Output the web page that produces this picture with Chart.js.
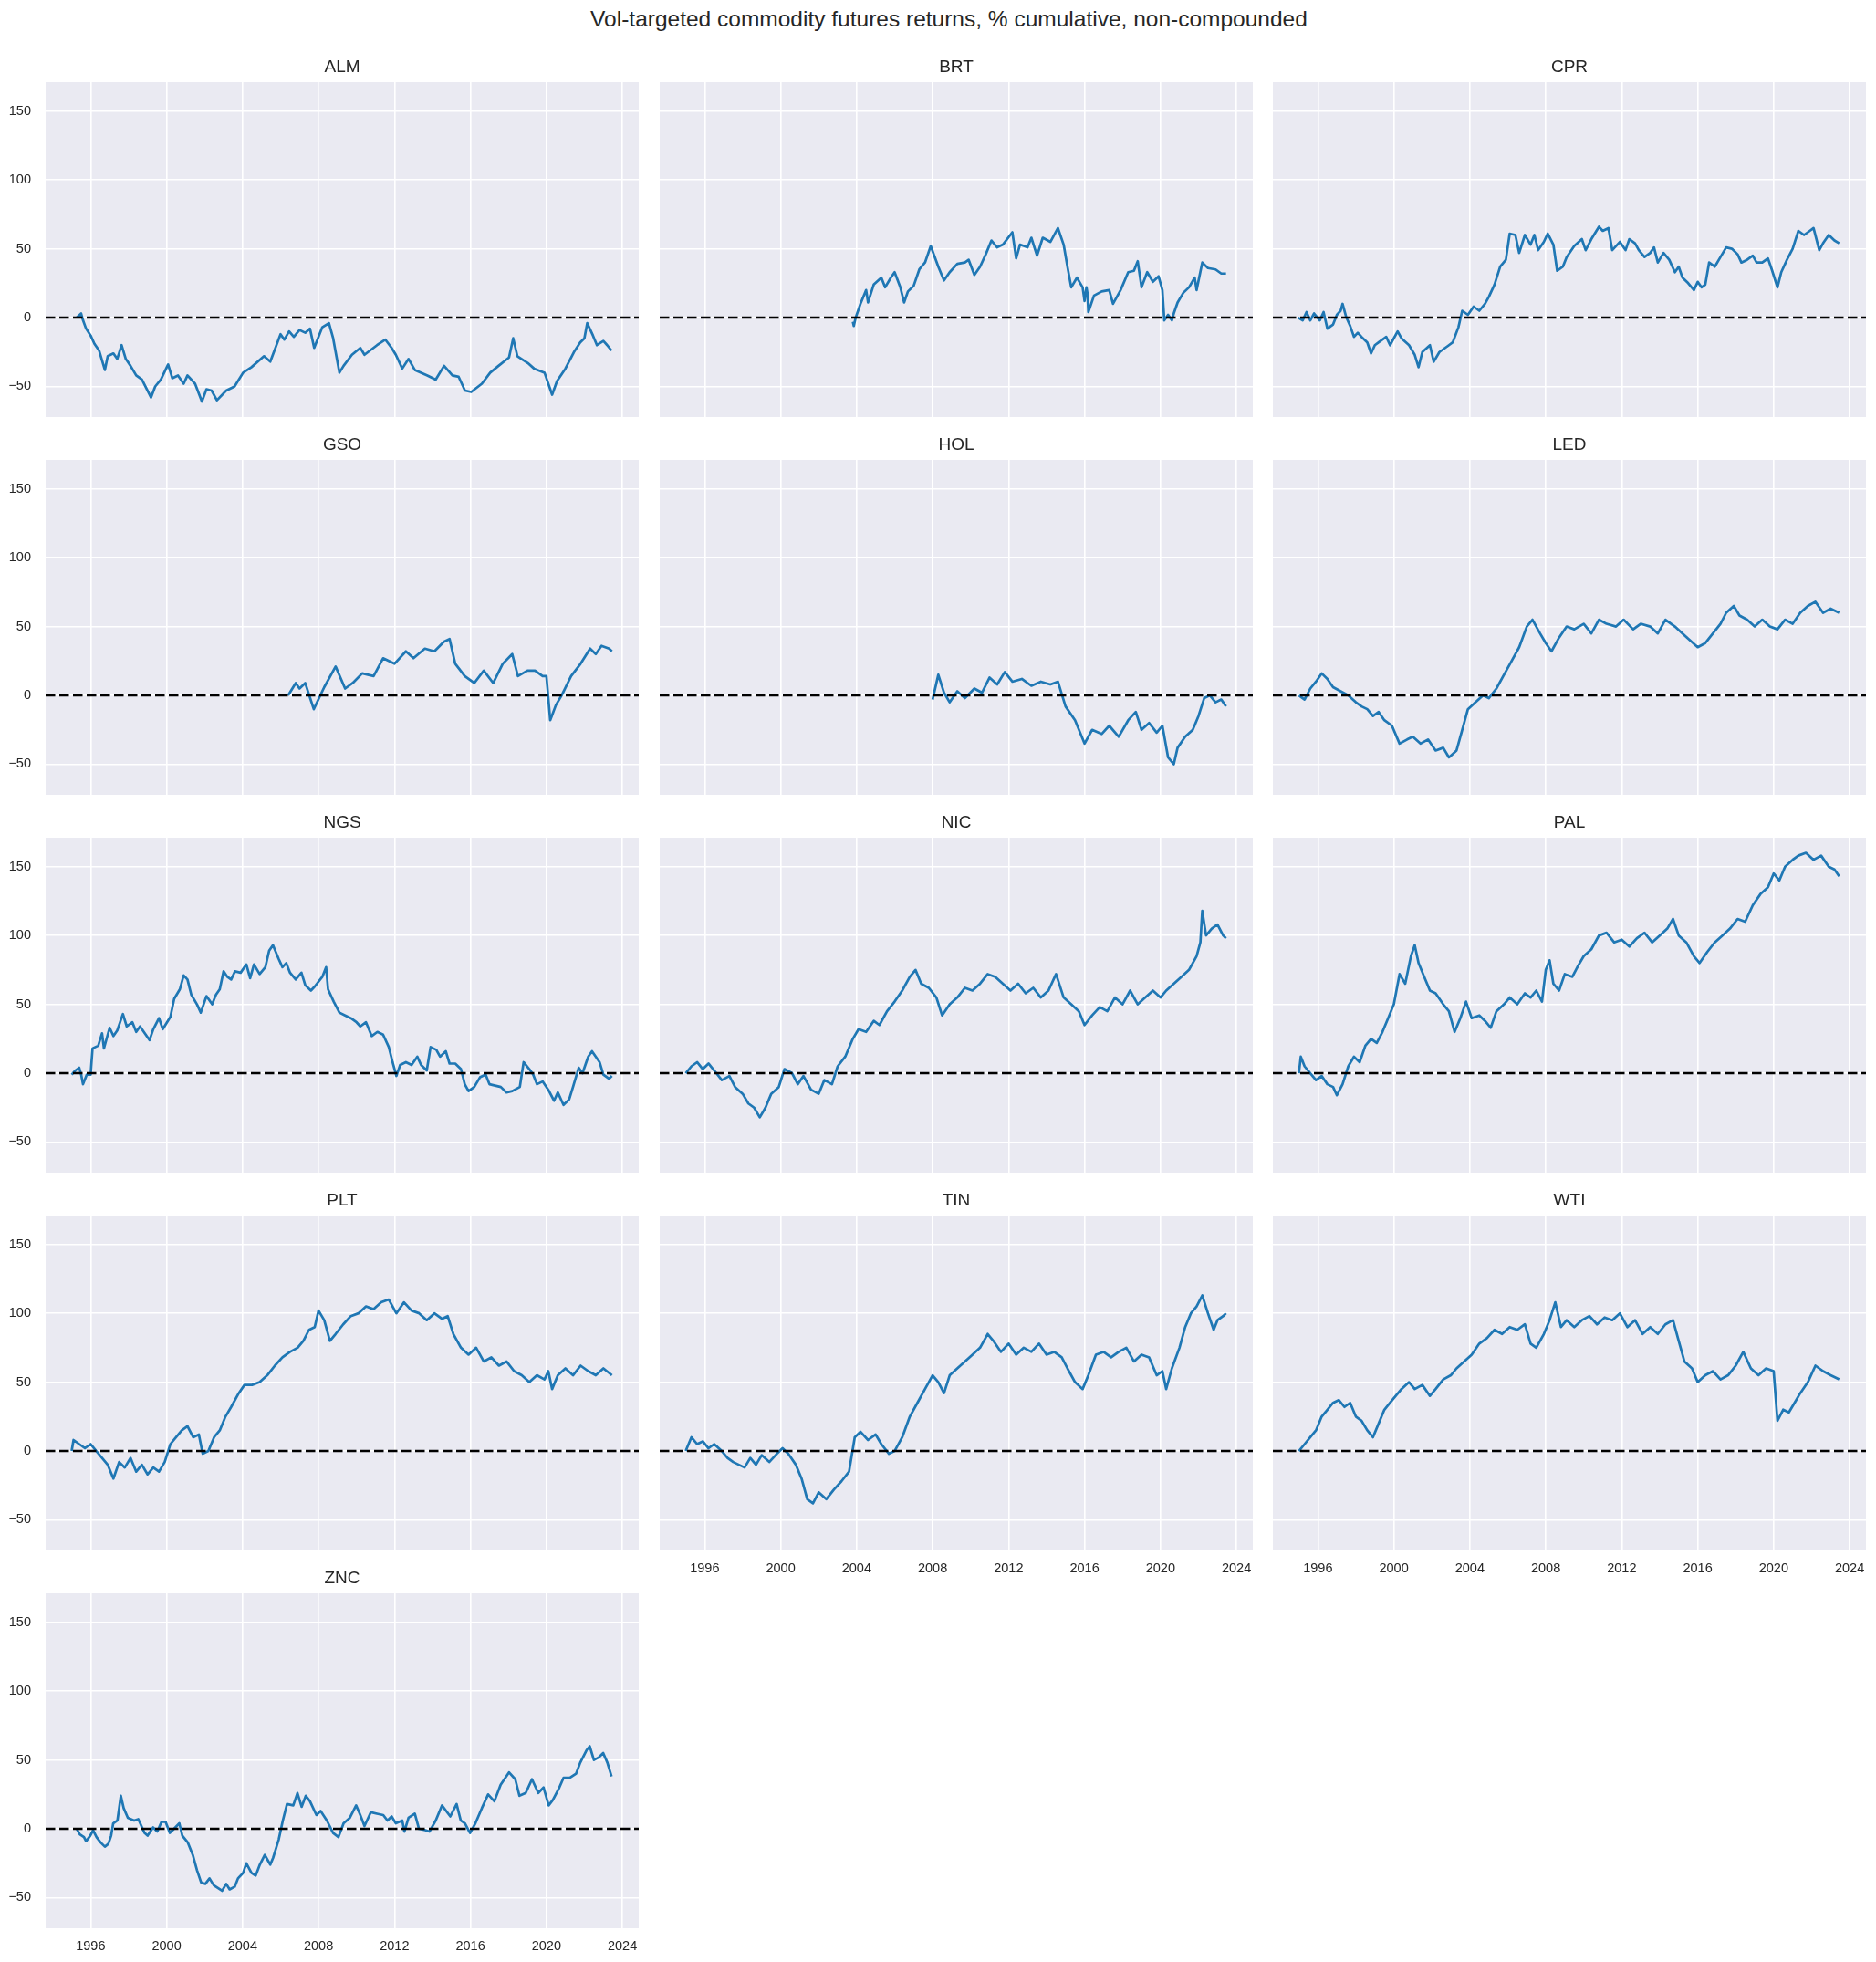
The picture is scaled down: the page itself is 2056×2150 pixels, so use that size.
<!DOCTYPE html>
<html>
<head>
<meta charset="utf-8">
<script src="https://cdn.jsdelivr.net/npm/chart.js@4.4.1/dist/chart.umd.min.js"></script>
<style>
  html, body { margin: 0; padding: 0; background: #fff; }
  #fig { position: relative; width: 2056px; height: 2150px; overflow: hidden; }
  #suptitle {
    position: absolute; left: 12px; top: 7px; width: 2056px; text-align: center;
    font-family: 'Liberation Sans', Arial, sans-serif; font-size: 24.5px; color: #262626;
  }
  canvas { position: absolute; }
</style>
</head>
<body>
<div id="fig">
  <div id="suptitle">Vol-targeted commodity futures returns, % cumulative, non-compounded</div>
</div>
<script>
// axis setup
const xTicks = [1996, 2000, 2004, 2008, 2012, 2016, 2020, 2024];
const yTicks = [-50, 0, 50, 100, 150];
const X_MIN = 1993.63, X_MAX = 2024.86;
const Y_MIN = -72.2, Y_MAX = 171;

// cumulative returns, [year, %] read at the turning points of each line
const ALM = [[1995.27,0],[1995.5,3],[1995.6,-2],[1995.76,-8],[1996.0,-13],[1996.2,-19],[1996.45,-24],[1996.75,-38],[1996.9,-28],[1997.2,-26],[1997.4,-30],[1997.63,-20],[1997.85,-30],[1998.1,-35],[1998.4,-42],[1998.7,-45],[1999.18,-58],[1999.4,-50],[1999.7,-45],[2000.08,-34],[2000.3,-44],[2000.6,-42],[2000.9,-48],[2001.1,-42],[2001.5,-48],[2001.86,-61],[2002.1,-52],[2002.37,-53],[2002.65,-60],[2003.14,-53],[2003.58,-50],[2004.03,-40],[2004.47,-36],[2005.13,-28],[2005.46,-32],[2006.0,-12],[2006.2,-16],[2006.45,-10],[2006.7,-14],[2007.0,-9],[2007.3,-11],[2007.55,-8],[2007.77,-22],[2008.2,-7],[2008.55,-4],[2008.77,-15],[2009.1,-40],[2009.32,-35],[2009.76,-27],[2010.2,-22],[2010.42,-27],[2011.08,-20],[2011.52,-16],[2011.85,-22],[2012.07,-27],[2012.41,-37],[2012.74,-30],[2013.07,-38],[2013.73,-42],[2014.17,-45],[2014.61,-35],[2015.05,-42],[2015.38,-43],[2015.71,-53],[2016.04,-54],[2016.6,-48],[2017.04,-40],[2017.48,-35],[2018.03,-29],[2018.25,-15],[2018.47,-28],[2019.02,-33],[2019.35,-37],[2019.9,-40],[2020.3,-56],[2020.56,-46],[2021.0,-37],[2021.45,-25],[2021.78,-18],[2022.0,-15],[2022.15,-4],[2022.45,-13],[2022.66,-20],[2023.0,-17],[2023.2,-20],[2023.43,-24]];
const BRT = [[2003.8,-3],[2003.85,-6],[2003.95,0],[2004.2,10],[2004.5,20],[2004.6,11],[2004.9,24],[2005.3,29],[2005.5,22],[2005.8,29],[2006.0,33],[2006.3,22],[2006.5,11],[2006.7,19],[2007.0,23],[2007.3,35],[2007.6,40],[2007.9,52],[2008.3,37],[2008.6,27],[2008.9,33],[2009.3,39],[2009.7,40],[2009.9,42],[2010.2,31],[2010.5,37],[2010.8,46],[2011.1,56],[2011.4,51],[2011.7,53],[2012.2,62],[2012.4,43],[2012.6,53],[2013.0,51],[2013.2,58],[2013.5,45],[2013.8,58],[2014.2,55],[2014.6,65],[2014.9,53],[2015.1,37],[2015.3,22],[2015.6,29],[2015.9,22],[2016.0,12],[2016.1,22],[2016.15,18],[2016.2,4],[2016.5,16],[2016.9,19],[2017.3,20],[2017.5,10],[2017.9,20],[2018.3,33],[2018.6,34],[2018.8,41],[2019.0,22],[2019.3,33],[2019.6,26],[2019.9,30],[2020.1,20],[2020.2,-2],[2020.4,2],[2020.6,-2],[2020.7,3],[2020.9,11],[2021.2,18],[2021.5,22],[2021.8,29],[2021.9,20],[2022.2,40],[2022.5,36],[2022.9,35],[2023.2,32],[2023.45,32]];
const CPR = [[1994.96,0],[1995.2,-2],[1995.4,4],[1995.6,-2],[1995.8,3],[1996.1,-2],[1996.3,4],[1996.5,-8],[1996.8,-5],[1997.0,2],[1997.2,5],[1997.3,10],[1997.5,0],[1997.7,-6],[1997.9,-14],[1998.1,-11],[1998.3,-14],[1998.6,-18],[1998.8,-26],[1999.0,-20],[1999.2,-18],[1999.4,-16],[1999.6,-14],[1999.8,-20],[2000.2,-10],[2000.4,-15],[2000.8,-20],[2001.1,-27],[2001.3,-36],[2001.5,-25],[2001.9,-20],[2002.1,-32],[2002.4,-25],[2002.6,-23],[2002.9,-20],[2003.1,-18],[2003.4,-7],[2003.6,5],[2003.9,2],[2004.2,8],[2004.5,5],[2004.8,10],[2005.0,15],[2005.3,24],[2005.6,37],[2005.9,42],[2006.1,61],[2006.4,60],[2006.6,47],[2006.9,60],[2007.2,53],[2007.4,60],[2007.6,49],[2007.9,55],[2008.1,61],[2008.4,53],[2008.6,34],[2008.9,37],[2009.1,44],[2009.5,52],[2009.9,57],[2010.1,49],[2010.4,57],[2010.8,66],[2011.0,63],[2011.3,65],[2011.5,49],[2011.9,55],[2012.2,49],[2012.4,57],[2012.7,54],[2012.9,49],[2013.2,44],[2013.5,47],[2013.7,51],[2013.9,40],[2014.2,47],[2014.5,42],[2014.8,33],[2015.0,37],[2015.2,29],[2015.5,25],[2015.8,20],[2016.0,26],[2016.2,22],[2016.4,24],[2016.6,40],[2016.9,37],[2017.2,44],[2017.5,51],[2017.8,50],[2018.1,46],[2018.3,40],[2018.6,42],[2018.9,45],[2019.1,40],[2019.4,40],[2019.7,43],[2019.9,35],[2020.2,22],[2020.4,33],[2020.7,42],[2021.0,50],[2021.3,63],[2021.6,60],[2021.9,63],[2022.1,65],[2022.4,49],[2022.6,54],[2022.9,60],[2023.2,56],[2023.45,54]];
const GSO = [[2006.4,0],[2006.8,9],[2007.0,5],[2007.3,9],[2007.75,-10],[2008.3,6],[2008.9,21],[2009.4,5],[2009.8,9],[2010.3,16],[2010.9,14],[2011.4,27],[2012.0,23],[2012.6,32],[2013.0,27],[2013.6,34],[2014.1,32],[2014.6,39],[2014.9,41],[2015.2,23],[2015.7,14],[2016.2,9],[2016.7,18],[2017.2,9],[2017.7,23],[2018.2,30],[2018.5,14],[2019.0,18],[2019.4,18],[2019.8,14],[2020.0,14],[2020.2,-18],[2020.5,-7],[2020.8,0],[2021.3,14],[2021.8,23],[2022.3,34],[2022.6,30],[2022.9,36],[2023.3,34],[2023.45,32]];
const HOL = [[2008.0,-3],[2008.3,15],[2008.6,2],[2008.9,-5],[2009.3,3],[2009.7,-2],[2010.2,5],[2010.6,2],[2011.0,13],[2011.4,8],[2011.8,17],[2012.2,10],[2012.7,12],[2013.2,7],[2013.7,10],[2014.2,8],[2014.6,10],[2015.0,-8],[2015.5,-18],[2016.0,-35],[2016.4,-25],[2016.9,-28],[2017.3,-22],[2017.8,-30],[2018.3,-18],[2018.7,-12],[2019.0,-25],[2019.4,-20],[2019.8,-27],[2020.1,-22],[2020.4,-45],[2020.7,-50],[2020.9,-38],[2021.3,-30],[2021.7,-25],[2022.0,-15],[2022.3,-2],[2022.6,0],[2022.9,-5],[2023.2,-3],[2023.45,-8]];
const LED = [[1995.0,0],[1995.3,-3],[1995.6,5],[1995.9,10],[1996.2,16],[1996.5,12],[1996.8,6],[1997.2,3],[1997.6,0],[1998.0,-5],[1998.3,-8],[1998.6,-10],[1998.9,-15],[1999.2,-12],[1999.5,-18],[1999.9,-22],[2000.3,-35],[2000.7,-32],[2001.0,-30],[2001.4,-35],[2001.8,-32],[2002.2,-40],[2002.6,-38],[2002.9,-45],[2003.3,-40],[2003.6,-25],[2003.9,-10],[2004.3,-5],[2004.7,0],[2005.0,-2],[2005.4,5],[2005.8,15],[2006.2,25],[2006.6,35],[2007.0,50],[2007.3,55],[2007.7,45],[2008.0,38],[2008.3,32],[2008.7,42],[2009.1,50],[2009.5,48],[2010.0,52],[2010.4,45],[2010.8,55],[2011.2,52],[2011.7,50],[2012.1,55],[2012.6,48],[2013.0,52],[2013.5,50],[2013.9,45],[2014.3,55],[2014.8,50],[2015.2,45],[2015.6,40],[2016.0,35],[2016.4,38],[2016.8,45],[2017.2,52],[2017.5,60],[2017.9,65],[2018.2,58],[2018.6,55],[2019.0,50],[2019.4,55],[2019.8,50],[2020.2,48],[2020.6,55],[2021.0,52],[2021.4,60],[2021.8,65],[2022.2,68],[2022.6,60],[2023.0,63],[2023.45,60]];
const NGS = [[1995.0,-1],[1995.2,2],[1995.4,4],[1995.5,-1],[1995.6,-8],[1995.8,-1],[1996.0,-1],[1996.1,18],[1996.4,20],[1996.6,29],[1996.7,18],[1997.0,33],[1997.2,27],[1997.4,31],[1997.7,43],[1997.9,34],[1998.2,37],[1998.4,30],[1998.6,34],[1998.9,28],[1999.1,24],[1999.3,32],[1999.6,40],[1999.8,32],[2000.2,41],[2000.4,54],[2000.7,61],[2000.9,71],[2001.1,68],[2001.3,57],[2001.6,50],[2001.8,44],[2002.1,56],[2002.4,50],[2002.6,57],[2002.8,61],[2003.0,74],[2003.2,70],[2003.4,68],[2003.6,74],[2003.9,73],[2004.2,79],[2004.4,69],[2004.6,79],[2004.9,72],[2005.2,77],[2005.4,89],[2005.6,93],[2005.9,83],[2006.1,77],[2006.3,80],[2006.5,73],[2006.8,68],[2007.1,73],[2007.3,64],[2007.6,60],[2007.8,63],[2008.2,70],[2008.4,77],[2008.5,61],[2008.8,52],[2009.1,44],[2009.4,42],[2009.7,40],[2010.0,37],[2010.2,34],[2010.5,37],[2010.8,27],[2011.1,30],[2011.4,28],[2011.7,19],[2011.9,8],[2012.1,-2],[2012.3,6],[2012.6,8],[2012.9,6],[2013.2,12],[2013.4,6],[2013.7,2],[2013.9,19],[2014.2,17],[2014.4,12],[2014.7,16],[2014.9,7],[2015.2,7],[2015.5,3],[2015.7,-8],[2015.9,-13],[2016.2,-10],[2016.5,-3],[2016.8,-1],[2017.0,-8],[2017.3,-9],[2017.6,-10],[2017.9,-14],[2018.2,-13],[2018.6,-10],[2018.8,8],[2019.1,3],[2019.3,-1],[2019.5,-8],[2019.8,-6],[2020.1,-12],[2020.4,-20],[2020.6,-14],[2020.9,-23],[2021.2,-19],[2021.4,-10],[2021.7,4],[2021.9,0],[2022.2,12],[2022.4,16],[2022.6,12],[2022.8,8],[2023.0,-1],[2023.3,-4],[2023.45,-2]];
const NIC = [[1995.0,0],[1995.3,5],[1995.6,8],[1995.9,3],[1996.2,7],[1996.5,2],[1996.9,-5],[1997.3,-2],[1997.6,-10],[1998.0,-15],[1998.3,-22],[1998.6,-25],[1998.9,-32],[1999.2,-25],[1999.5,-15],[1999.9,-10],[2000.2,3],[2000.6,0],[2000.9,-8],[2001.2,-2],[2001.6,-12],[2002.0,-15],[2002.3,-5],[2002.7,-8],[2003.0,5],[2003.4,12],[2003.8,25],[2004.1,32],[2004.5,30],[2004.9,38],[2005.2,35],[2005.6,45],[2006.0,52],[2006.4,60],[2006.8,70],[2007.1,75],[2007.4,65],[2007.8,62],[2008.2,55],[2008.5,42],[2008.9,50],[2009.3,55],[2009.7,62],[2010.1,60],[2010.5,65],[2010.9,72],[2011.3,70],[2011.7,65],[2012.1,60],[2012.5,65],[2012.9,58],[2013.3,62],[2013.7,55],[2014.1,60],[2014.5,72],[2014.9,55],[2015.3,50],[2015.7,45],[2016.0,35],[2016.4,42],[2016.8,48],[2017.2,45],[2017.6,55],[2018.0,50],[2018.4,60],[2018.8,50],[2019.2,55],[2019.6,60],[2020.0,55],[2020.3,60],[2020.7,65],[2021.1,70],[2021.5,75],[2021.9,85],[2022.1,95],[2022.2,118],[2022.4,100],[2022.7,105],[2023.0,108],[2023.3,100],[2023.45,98]];
const PAL = [[1995.0,0],[1995.1,12],[1995.3,5],[1995.6,0],[1995.9,-5],[1996.2,-2],[1996.5,-8],[1996.8,-10],[1997.0,-16],[1997.3,-8],[1997.6,5],[1997.9,12],[1998.2,8],[1998.5,20],[1998.8,25],[1999.1,22],[1999.4,30],[1999.7,40],[2000.0,50],[2000.3,72],[2000.6,65],[2000.9,85],[2001.1,93],[2001.3,80],[2001.6,70],[2001.9,60],[2002.2,58],[2002.6,50],[2002.9,45],[2003.2,30],[2003.5,40],[2003.8,52],[2004.1,40],[2004.5,42],[2004.8,38],[2005.1,33],[2005.4,45],[2005.8,50],[2006.1,55],[2006.5,50],[2006.9,58],[2007.2,55],[2007.5,60],[2007.8,52],[2008.0,75],[2008.2,82],[2008.4,65],[2008.7,60],[2009.0,72],[2009.4,70],[2009.7,78],[2010.0,85],[2010.4,90],[2010.8,100],[2011.2,102],[2011.6,95],[2012.0,97],[2012.4,92],[2012.8,98],[2013.2,102],[2013.6,95],[2014.0,100],[2014.4,105],[2014.7,112],[2015.0,100],[2015.4,95],[2015.8,85],[2016.1,80],[2016.5,88],[2016.9,95],[2017.3,100],[2017.7,105],[2018.1,112],[2018.5,110],[2018.9,122],[2019.3,130],[2019.7,135],[2020.0,145],[2020.3,140],[2020.6,150],[2021.0,155],[2021.3,158],[2021.7,160],[2022.1,155],[2022.5,158],[2022.9,150],[2023.2,148],[2023.45,143]];
const PLT = [[1995.0,0],[1995.1,8],[1995.4,5],[1995.7,2],[1996.0,5],[1996.3,0],[1996.6,-5],[1996.9,-10],[1997.2,-20],[1997.5,-8],[1997.8,-12],[1998.1,-5],[1998.4,-15],[1998.7,-10],[1999.0,-17],[1999.3,-12],[1999.6,-15],[1999.9,-8],[2000.2,5],[2000.5,10],[2000.8,15],[2001.1,18],[2001.4,10],[2001.7,12],[2001.9,-2],[2002.2,0],[2002.5,10],[2002.8,15],[2003.1,25],[2003.4,32],[2003.8,42],[2004.1,48],[2004.5,48],[2004.9,50],[2005.3,55],[2005.7,62],[2006.1,68],[2006.5,72],[2006.9,75],[2007.2,80],[2007.5,88],[2007.8,90],[2008.0,102],[2008.3,95],[2008.6,80],[2008.9,85],[2009.3,92],[2009.7,98],[2010.1,100],[2010.5,105],[2010.9,103],[2011.3,108],[2011.7,110],[2012.1,100],[2012.5,108],[2012.9,102],[2013.3,100],[2013.7,95],[2014.1,100],[2014.5,96],[2014.8,98],[2015.1,85],[2015.5,75],[2015.9,70],[2016.3,75],[2016.7,65],[2017.1,68],[2017.5,62],[2017.9,65],[2018.3,58],[2018.7,55],[2019.1,50],[2019.5,55],[2019.9,52],[2020.1,58],[2020.3,45],[2020.6,55],[2021.0,60],[2021.4,55],[2021.8,62],[2022.2,58],[2022.6,55],[2023.0,60],[2023.45,55]];
const TIN = [[1995.0,0],[1995.3,10],[1995.6,5],[1995.9,7],[1996.2,2],[1996.5,5],[1996.9,0],[1997.2,-5],[1997.5,-8],[1997.8,-10],[1998.1,-12],[1998.4,-5],[1998.7,-10],[1999.0,-3],[1999.4,-8],[1999.8,-2],[2000.1,2],[2000.4,-2],[2000.8,-10],[2001.1,-20],[2001.4,-35],[2001.7,-38],[2002.0,-30],[2002.4,-35],[2002.8,-28],[2003.2,-22],[2003.6,-15],[2003.9,10],[2004.2,14],[2004.6,8],[2005.0,12],[2005.3,5],[2005.7,-2],[2006.0,0],[2006.4,10],[2006.8,25],[2007.2,35],[2007.6,45],[2008.0,55],[2008.3,50],[2008.6,42],[2008.9,55],[2009.3,60],[2009.7,65],[2010.1,70],[2010.5,75],[2010.9,85],[2011.2,80],[2011.6,72],[2012.0,78],[2012.4,70],[2012.8,75],[2013.2,72],[2013.6,78],[2014.0,70],[2014.4,72],[2014.8,68],[2015.1,60],[2015.5,50],[2015.9,45],[2016.2,55],[2016.6,70],[2017.0,72],[2017.4,68],[2017.8,72],[2018.2,75],[2018.6,65],[2019.0,70],[2019.4,68],[2019.8,55],[2020.1,58],[2020.3,45],[2020.6,60],[2021.0,75],[2021.3,90],[2021.6,100],[2021.9,105],[2022.2,113],[2022.5,100],[2022.8,88],[2023.0,95],[2023.3,98],[2023.45,100]];
const WTI = [[1995.0,0],[1995.3,5],[1995.6,10],[1995.9,15],[1996.2,25],[1996.5,30],[1996.8,35],[1997.1,37],[1997.4,32],[1997.7,35],[1998.0,25],[1998.3,22],[1998.6,15],[1998.9,10],[1999.2,20],[1999.5,30],[1999.8,35],[2000.1,40],[2000.4,45],[2000.8,50],[2001.1,45],[2001.5,48],[2001.9,40],[2002.2,45],[2002.6,52],[2003.0,55],[2003.3,60],[2003.7,65],[2004.1,70],[2004.5,78],[2004.9,82],[2005.3,88],[2005.7,85],[2006.1,90],[2006.5,88],[2006.9,92],[2007.2,78],[2007.5,75],[2007.9,85],[2008.2,95],[2008.5,108],[2008.8,90],[2009.1,95],[2009.5,90],[2009.9,95],[2010.3,98],[2010.7,92],[2011.1,97],[2011.5,95],[2011.9,100],[2012.3,90],[2012.7,95],[2013.1,85],[2013.5,90],[2013.9,85],[2014.3,92],[2014.7,95],[2015.0,80],[2015.3,65],[2015.7,60],[2016.0,50],[2016.4,55],[2016.8,58],[2017.2,52],[2017.6,55],[2018.0,62],[2018.4,72],[2018.8,60],[2019.2,55],[2019.6,60],[2020.0,58],[2020.2,22],[2020.5,30],[2020.8,28],[2021.1,35],[2021.4,42],[2021.8,50],[2022.2,62],[2022.6,58],[2023.0,55],[2023.45,52]];
const ZNC = [[1995.27,0],[1995.43,-4],[1995.65,-6],[1995.76,-9],[1995.98,-5],[1996.13,-1],[1996.31,-6],[1996.53,-10],[1996.75,-13],[1996.93,-11],[1997.08,-5],[1997.19,4],[1997.41,6],[1997.59,24],[1997.74,15],[1997.96,8],[1998.29,6],[1998.51,7],[1998.84,-3],[1999.0,-5],[1999.29,1],[1999.51,-2],[1999.73,5],[1999.95,5],[2000.17,-3],[2000.39,0],[2000.67,4],[2000.83,-5],[2001.12,-10],[2001.38,-19],[2001.6,-30],[2001.82,-39],[2002.04,-40],[2002.26,-36],[2002.48,-41],[2002.7,-43],[2002.92,-45],[2003.14,-40],[2003.32,-44],[2003.59,-42],[2003.76,-36],[2004.03,-32],[2004.2,-25],[2004.47,-32],[2004.69,-34],[2004.91,-26],[2005.17,-19],[2005.46,-26],[2005.61,-21],[2005.9,-8],[2006.12,6],[2006.34,18],[2006.67,17],[2006.89,26],[2007.11,16],[2007.33,24],[2007.55,20],[2007.89,10],[2008.11,13],[2008.44,6],[2008.77,-3],[2009.05,-6],[2009.32,4],[2009.65,8],[2009.98,17],[2010.2,10],[2010.42,2],[2010.75,12],[2011.08,11],[2011.41,10],[2011.63,6],[2011.85,9],[2012.07,4],[2012.41,6],[2012.52,-2],[2012.74,8],[2013.07,11],[2013.29,0],[2013.62,-1],[2013.84,-2],[2014.17,6],[2014.5,17],[2014.94,9],[2015.27,18],[2015.49,6],[2015.71,4],[2015.98,-3],[2016.26,4],[2016.6,15],[2016.93,25],[2017.26,20],[2017.59,32],[2018.03,41],[2018.36,36],[2018.58,24],[2018.91,26],[2019.24,36],[2019.57,26],[2019.85,30],[2020.12,17],[2020.34,21],[2020.68,30],[2020.9,37],[2021.23,37],[2021.56,40],[2021.78,48],[2022.11,57],[2022.28,60],[2022.5,50],[2022.77,52],[2022.99,55],[2023.21,48],[2023.43,38]];

const names = ['ALM', 'BRT', 'CPR', 'GSO', 'HOL', 'LED', 'NGS', 'NIC', 'PAL', 'PLT', 'TIN', 'WTI', 'ZNC'];
const series = [ALM, BRT, CPR, GSO, HOL, LED, NGS, NIC, PAL, PLT, TIN, WTI, ZNC];

const colLeft = [50, 723, 1395];
const rowTop = [90, 504, 918, 1332, 1746];
const PLOT_W = 650, PLOT_H = 367;
const PAD_L = 60, PAD_T = 40, PAD_R = 10, PAD_B = 40;
const FONT = "'Liberation Sans', Arial, sans-serif";
const TEXT = '#262626';

// gray panel behind the plot area, dashed zero line on top, panel title
const panelDecor = {
    id: 'panelDecor',
    beforeDraw(chart) {
        const a = chart.chartArea, ctx = chart.ctx;
        ctx.save();
        ctx.fillStyle = '#eaeaf2';
        ctx.fillRect(a.left, a.top, a.right - a.left, a.bottom - a.top);
        ctx.restore();
    },
    afterDatasetsDraw(chart) {
        const a = chart.chartArea, ctx = chart.ctx;
        const y0 = chart.scales.y.getPixelForValue(0);
        ctx.save();
        ctx.beginPath();
        ctx.rect(a.left, a.top, a.right - a.left, a.bottom - a.top);
        ctx.clip();
        ctx.strokeStyle = '#000';
        ctx.lineWidth = 2.5;
        ctx.setLineDash([10.5, 4.5]);
        ctx.beginPath();
        ctx.moveTo(a.left, y0);
        ctx.lineTo(a.right, y0);
        ctx.stroke();
        ctx.restore();
    },
    afterDraw(chart, args, opts) {
        const a = chart.chartArea, ctx = chart.ctx;
        ctx.save();
        ctx.fillStyle = TEXT;
        ctx.font = '19px ' + FONT;
        ctx.textAlign = 'center';
        ctx.textBaseline = 'middle';
        ctx.fillText(opts.text, (a.left + a.right) / 2, a.top - 16);
        ctx.restore();
    }
};

const fig = document.getElementById('fig');

names.forEach((name, i) => {
    const col = i % 3, row = Math.floor(i / 3);
    const showX = i >= 10;
    const showY = col === 0;

    const canvas = document.createElement('canvas');
    canvas.width = PAD_L + PLOT_W + PAD_R;
    canvas.height = PAD_T + PLOT_H + PAD_B;
    canvas.style.left = (colLeft[col] - PAD_L) + 'px';
    canvas.style.top = (rowTop[row] - PAD_T) + 'px';
    fig.appendChild(canvas);

    new Chart(canvas, {
        type: 'line',
        data: {
            datasets: [{
                data: series[i].map(([x, y]) => ({ x, y })),
                borderColor: '#1f77b4',
                borderWidth: 2.7,
                borderJoinStyle: 'round',
                pointRadius: 0,
                tension: 0,
                fill: false
            }]
        },
        options: {
            responsive: false,
            animation: false,
            devicePixelRatio: 1,
            layout: { padding: { left: 0, top: PAD_T, right: PAD_R, bottom: 0 } },
            plugins: {
                legend: { display: false },
                tooltip: { enabled: false },
                panelDecor: { text: name }
            },
            scales: {
                x: {
                    type: 'linear',
                    min: X_MIN,
                    max: X_MAX,
                    afterBuildTicks: s => { s.ticks = xTicks.map(v => ({ value: v })); },
                    afterFit: s => { s.height = PAD_B; },
                    grid: { color: '#ffffff', lineWidth: 1.6, drawTicks: false },
                    border: { display: false },
                    ticks: {
                        display: showX,
                        padding: 11,
                        color: TEXT,
                        font: { family: FONT, size: 14.5 },
                        maxRotation: 0,
                        callback: v => String(v)
                    }
                },
                y: {
                    min: Y_MIN,
                    max: Y_MAX,
                    afterBuildTicks: s => { s.ticks = yTicks.map(v => ({ value: v })); },
                    afterFit: s => { s.width = PAD_L; },
                    grid: { color: '#ffffff', lineWidth: 1.6, drawTicks: false },
                    border: { display: false },
                    ticks: {
                        display: showY,
                        padding: 16,
                        color: TEXT,
                        font: { family: FONT, size: 14.5 },
                        callback: v => v < 0 ? '\u2212' + Math.abs(v) : String(v)
                    }
                }
            }
        },
        plugins: [panelDecor]
    });
});
</script>
</body>
</html>
